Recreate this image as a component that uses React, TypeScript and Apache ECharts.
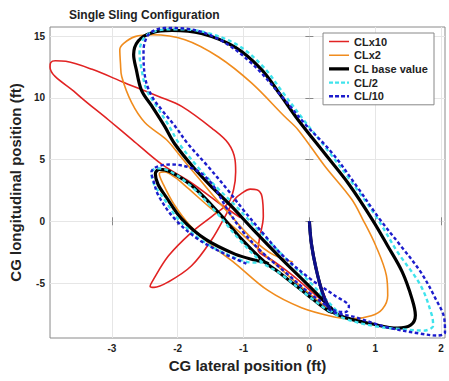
import React, { useEffect, useRef } from "react";
import * as echarts from "echarts";

const FONT = "'Liberation Sans', Arial, sans-serif";

const xTicks = [-3, -2, -1, 0, 1, 2];
const yTicks = [-5, 0, 5, 10, 15];
const xRange = [-3.94, 2.06];
const yRange = [-9.45, 15.73];

const legendNames = ["CLx10", "CLx2", "CL base value", "CL/2", "CL/10"];

// common start of every trajectory
const startPath = [[0, 0], [0.03, -1.8], [0.1, -3.8], [0.2, -5.8], [0.32, -7.2]];

const redPath = [
  [0, 0], [0.03, -1.8], [0.1, -3.8], [0.2, -5.6], [0.3, -6.9], [0.1, -6.0], [-0.25, -4.4], [-0.55, -3.2],
  [-0.78, -2.3], [-0.76, -1.45], [-0.7, 0.4], [-0.72, 2.0], [-0.8, 2.55], [-0.9, 2.6], [-1.02, 2.3],
  [-1.13, 1.8], [-1.28, 0.4], [-1.48, -1.45], [-1.79, -3.6], [-2.14, -4.9], [-2.36, -5.35], [-2.42, -5.25],
  [-2.39, -4.9], [-2.14, -2.8], [-1.79, -0.9], [-1.48, 0.4], [-1.23, 1.5], [-1.15, 2.6], [-1.12, 4.0],
  [-1.13, 5.0], [-1.23, 6.3], [-1.45, 7.4], [-1.94, 9.3], [-2.29, 10.1], [-2.8, 11.2], [-3.3, 12.3],
  [-3.7, 12.95], [-3.86, 13.0], [-3.93, 12.85], [-3.94, 12.5], [-3.55, 10.4], [-3.05, 8.2], [-2.69, 6.6],
  [-2.24, 4.6], [-1.79, 3.1], [-1.38, 1.5], [-1.05, 0.3],
];

const orangeRest = [
  [0.1, -6.3], [-0.3, -4.5], [-0.7, -2.6], [-1.1, -0.7], [-1.53, 1.2], [-1.85, 2.7], [-2.04, 3.55],
  [-2.2, 4.0], [-2.28, 3.85], [-2.22, 3.0], [-2.06, 1.4], [-1.82, -0.3], [-1.5, -1.9], [-1.13, -3.4],
  [-0.63, -5.6], [-0.12, -7.0], [0.38, -7.75], [0.64, -7.9], [0.94, -7.65], [1.11, -7.1], [1.19, -6.0],
  [1.17, -4.4], [1.01, -2.0], [0.81, 0.16], [0.64, 1.8], [0.23, 4.5], [-0.17, 7.4], [-0.38, 8.5],
  [-0.88, 11.2], [-1.38, 13.3], [-1.89, 14.7], [-2.39, 15.1], [-2.65, 14.95], [-2.82, 14.4], [-2.88, 13.9],
  [-2.87, 12.8], [-2.85, 11.7], [-2.7, 9.6], [-2.5, 8.0], [-2.17, 6.6], [-1.95, 5.2], [-1.7, 3.6],
  [-1.45, 2.0], [-1.15, 0.2], [-0.85, -1.5], [-0.55, -2.7], [-0.25, -3.3],
];

const blackRest = [
  [0.55, -7.8], [0.94, -8.3], [1.34, -8.65], [1.54, -8.4], [1.61, -7.6], [1.56, -6.3], [1.41, -4.1],
  [1.19, -2.0], [0.96, 0.1], [0.6, 3.0], [0.23, 5.5], [-0.17, 8.2], [-0.45, 10.3], [-0.73, 12.3],
  [-1.13, 14.1], [-1.64, 15.2], [-2.09, 15.45], [-2.4, 15.25], [-2.6, 14.6], [-2.67, 13.5], [-2.63, 12.3],
  [-2.55, 10.6], [-2.39, 9.3], [-2.2, 7.7], [-2.05, 6.3], [-1.75, 4.3], [-1.45, 2.6], [-1.2, 1.3],
  [-0.85, -0.7], [-0.45, -2.9], [-0.05, -5.0], [0.25, -6.6], [0.4, -7.4], [0.3, -7.3], [-0.02, -6.0],
  [-0.47, -4.1], [-0.68, -3.3], [-1.03, -1.45], [-1.38, 0.7], [-1.78, 2.85], [-2.13, 4.05], [-2.28, 4.2],
  [-2.34, 3.85], [-2.3, 3.0], [-2.18, 2.0], [-1.94, 0.2], [-1.58, -1.45], [-1.13, -2.66], [-0.82, -3.15],
  [-0.68, -3.3], [-0.62, -3.45],
];

const cyanRest = [
  [0.55, -7.9], [1.0, -8.5], [1.44, -8.75], [1.74, -8.85], [1.88, -8.45], [1.86, -7.6], [1.69, -5.2],
  [1.34, -2.5], [1.04, 0.16], [0.68, 2.9], [0.3, 5.6], [-0.1, 8.3], [-0.4, 10.4], [-0.7, 12.5],
  [-1.1, 14.3], [-1.62, 15.35], [-2.05, 15.55], [-2.35, 15.38], [-2.52, 14.8], [-2.58, 13.6],
  [-2.55, 12.3], [-2.47, 10.6], [-2.32, 9.3], [-2.13, 7.7], [-1.98, 6.3], [-1.68, 4.3], [-1.38, 2.6],
  [-1.13, 1.3], [-0.78, -0.7], [-0.38, -2.9], [0.02, -5.0], [0.3, -6.6], [0.44, -7.4], [0.32, -7.3],
  [0.0, -6.1], [-0.45, -4.2], [-0.7, -3.4], [-1.06, -1.5], [-1.41, 0.7], [-1.81, 2.9], [-2.16, 4.15],
  [-2.33, 4.28], [-2.4, 3.9], [-2.36, 3.0], [-2.22, 1.9], [-1.98, 0.1], [-1.62, -1.6], [-1.2, -2.8],
  [-0.85, -3.35], [-0.73, -3.35],
];

const blueRest = [
  [0.69, -7.75], [1.19, -8.6], [1.69, -9.1], [1.94, -9.25], [2.06, -9.0], [2.05, -7.9], [1.92, -6.3],
  [1.69, -4.1], [1.39, -2.0], [1.07, 0.16], [0.75, 2.6], [0.35, 5.5], [-0.07, 7.9], [-0.37, 9.8],
  [-0.88, 12.8], [-1.38, 14.75], [-1.89, 15.6], [-2.2, 15.65], [-2.42, 15.25], [-2.5, 14.5],
  [-2.52, 13.6], [-2.49, 11.5], [-2.39, 10.1], [-2.24, 9.0], [-2.04, 7.7], [-1.85, 6.3], [-1.55, 4.5],
  [-1.25, 2.6], [-1.0, 0.9], [-0.7, -1.0], [-0.4, -2.8], [0.0, -4.6], [0.38, -6.0], [0.6, -6.9],
  [0.55, -7.35], [0.38, -7.2], [0.0, -5.8], [-0.35, -4.2], [-0.7, -2.6], [-1.0, -0.9], [-1.25, 1.0],
  [-1.45, 2.8], [-1.6, 3.7], [-1.79, 4.3], [-2.09, 4.6], [-2.3, 4.45], [-2.4, 4.0], [-2.37, 3.3],
  [-2.29, 2.05], [-2.04, 0.16], [-1.69, -1.45], [-1.28, -2.66], [-0.93, -3.5],
];

const colors = {
  red: "#e12323",
  orange: "#f08c1e",
  black: "#000000",
  cyan: "#3fe3ec",
  blue: "#1c1ccc",
  navy: "#0e0e88",
};

// legend glyphs (20 x 10 box)
const BOX = "M0,0L0,0ZM20,10L20,10Z";
const solidIcon = "path://" + BOX + "M0,4.2h20v1.6h-20z";
const thickIcon = "path://" + BOX + "M0,3.4h20v3.2h-20z";
const dashIcon = "path://" + BOX + "M0,3.8h4v2.4h-4zM6,3.8h4v2.4h-4zM12,3.8h4v2.4h-4zM18,3.8h2v2.4h-2z";
const legendIcons = [solidIcon, solidIcon, thickIcon, dashIcon, dashIcon];

export default function App() {
  const ref = useRef<HTMLDivElement>(null);
  useEffect(() => {
    if (!ref.current) return;
    const chart = echarts.init(ref.current, undefined, { renderer: "svg" });
    const line = (name: string, data: number[][], color: string, width: number, type: any) => ({
      name,
      type: "line",
      data,
      showSymbol: false,
      symbol: "none",
      smooth: 0.35,
      clip: true,
      lineStyle: { color, width, type },
      itemStyle: { color },
      emphasis: { disabled: true },
    });
    const tickStyle = { show: true, inside: true, length: 4, lineStyle: { color: "#888" } };
    chart.setOption({
      animation: false,
      backgroundColor: "#ffffff",
      title: {
        text: "Single Sling Configuration",
        left: 64,
        top: 4,
        textStyle: { fontFamily: FONT, fontSize: 12, fontWeight: "bold", color: "#222" },
      },
      legend: {
        data: legendNames.map((n, i) => ({ name: n, icon: legendIcons[i] })),
        orient: "vertical",
        right: 15,
        top: 33,
        itemWidth: 20,
        itemHeight: 10,
        itemGap: 2.7,
        padding: [3, 6, 3, 6],
        borderColor: "#888",
        borderWidth: 1,
        backgroundColor: "#ffffff",
        textStyle: { fontFamily: FONT, fontSize: 11, fontWeight: "bold", color: "#222" },
      },
      grid: {
        left: 48,
        right: 4,
        top: 27,
        bottom: 43,
        show: true,
        borderColor: "#8a8a8a",
        borderWidth: 1,
        backgroundColor: "#ffffff",
      },
      xAxis: [
        {
          type: "value",
          min: xRange[0],
          max: xRange[1],
          name: "CG lateral position (ft)",
          nameLocation: "middle",
          nameGap: 11,
          nameTextStyle: { fontFamily: FONT, fontSize: 15, fontWeight: "bold", color: "#222" },
          axisLine: { show: false },
          axisTick: { ...tickStyle, customValues: xTicks },
          axisLabel: { customValues: xTicks, fontFamily: FONT, fontSize: 10, fontWeight: "bold", color: "#222", margin: 5 },
          splitLine: { show: true, lineStyle: { color: "#e6e6e6", width: 1 } },
        },
        {
          type: "value",
          position: "top",
          min: xRange[0],
          max: xRange[1],
          axisLine: { show: false },
          axisTick: { ...tickStyle, customValues: xTicks },
          axisLabel: { show: false, customValues: xTicks },
          splitLine: { show: false },
        },
      ],
      yAxis: [
        {
          type: "value",
          min: yRange[0],
          max: yRange[1],
          name: "CG longitudinal position (ft)",
          nameLocation: "middle",
          nameGap: 16,
          nameTextStyle: { fontFamily: FONT, fontSize: 15, fontWeight: "bold", color: "#222" },
          axisLine: { show: false },
          axisTick: { ...tickStyle, customValues: yTicks },
          axisLabel: { customValues: yTicks, fontFamily: FONT, fontSize: 10, fontWeight: "bold", color: "#222", margin: 5 },
          splitLine: { show: true, lineStyle: { color: "#e6e6e6", width: 1 } },
        },
        {
          type: "value",
          position: "right",
          min: yRange[0],
          max: yRange[1],
          axisLine: { show: false },
          axisTick: { ...tickStyle, customValues: yTicks },
          axisLabel: { show: false, customValues: yTicks },
          splitLine: { show: false },
        },
      ],
      series: [
        line("CLx10", redPath, colors.red, 1.6, "solid"),
        line("CLx2", [...startPath, ...orangeRest], colors.orange, 1.6, "solid"),
        line("CL base value", [...startPath, ...blackRest], colors.black, 3.2, "solid"),
        line("CL/2", [...startPath, ...cyanRest], colors.cyan, 2.4, [4, 3]),
        line("CL/10", [...startPath, ...blueRest], colors.blue, 2.4, [3.5, 2.5]),
        line("start", startPath, colors.navy, 3, "solid"),
      ],
    });
    return () => chart.dispose();
  }, []);
  return (
    <div
      ref={ref}
      style={{ position: "absolute", left: 0, top: 0, width: 449, height: 381, background: "#fff" }}
    />
  );
}
